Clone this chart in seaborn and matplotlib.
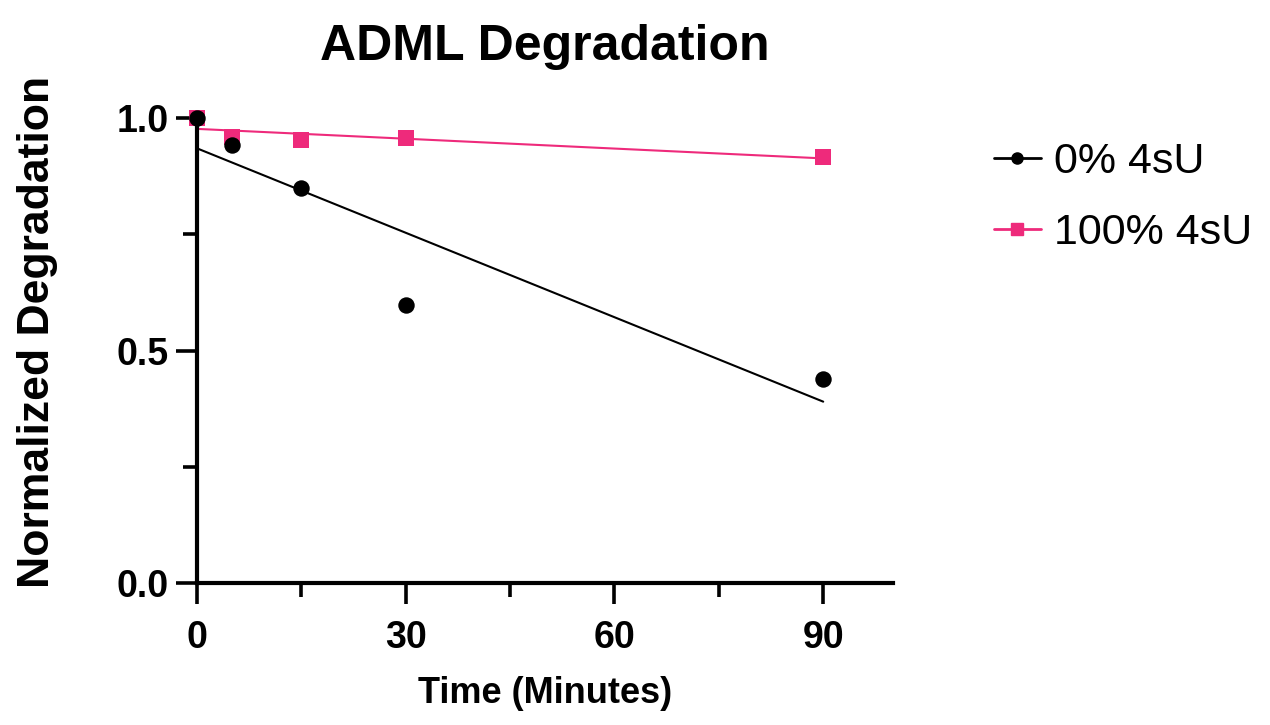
import pandas as pd
import numpy as np
import matplotlib.pyplot as plt
import seaborn as sns
from matplotlib.lines import Line2D
from matplotlib.ticker import MultipleLocator

# data
time_min = [0, 5, 15, 30, 90]
deg_0 = [1.0, 0.942, 0.849, 0.598, 0.439]
deg_100 = [1.0, 0.960, 0.953, 0.957, 0.916]
labels = ['0% 4sU', '100% 4sU']
colors = ['#000000', '#EE2A7B']
markers = ['o', 's']

sns.set_theme(style='ticks')
plt.rcParams['font.family'] = ['Liberation Sans', 'DejaVu Sans']
plt.rcParams.update({'text.color': 'black', 'axes.labelcolor': 'black',
                     'xtick.color': 'black', 'ytick.color': 'black',
                     'axes.edgecolor': 'black'})

fig = plt.figure(figsize=(12.7, 7.25), dpi=100)
ax = fig.add_axes([0.155, 0.196, 0.548, 0.641])

# draw 100% first so the black points sit on top
for vals, lab, col, mk, z in [(deg_100, labels[1], colors[1], markers[1], 2),
                              (deg_0, labels[0], colors[0], markers[0], 3)]:
    df = pd.DataFrame({'time': time_min, 'deg': vals})
    sns.regplot(x='time', y='deg', data=df, ax=ax, ci=None, color=col,
                marker=mk, scatter_kws={'s': 140, 'zorder': z + 2, 'clip_on': False,
                                        'linewidths': 0, 'alpha': 1},
                line_kws={'lw': 1.5, 'zorder': z})

ax.set_xlim(0, 100)
ax.set_ylim(0, 1.0)
ax.xaxis.set_major_locator(MultipleLocator(30))
ax.xaxis.set_minor_locator(MultipleLocator(15))
ax.yaxis.set_major_locator(MultipleLocator(0.5))
ax.yaxis.set_minor_locator(MultipleLocator(0.25))
ax.yaxis.set_major_formatter(plt.FormatStrFormatter('%.1f'))

sns.despine(ax=ax)
for s in ['left', 'bottom']:
    ax.spines[s].set_linewidth(3)
ax.tick_params(which='major', length=15, width=2.6, labelsize=27, pad=5)
ax.tick_params(axis='x', which='major', pad=12)
ax.tick_params(which='minor', length=10, width=2.6)
for t in ax.get_xticklabels() + ax.get_yticklabels():
    t.set_fontweight('bold')

ax.set_xlabel('Time (Minutes)', fontsize=26, fontweight='bold', labelpad=14)
ax.set_ylabel('Normalized Degradation', fontsize=32, fontweight='bold')
ax.yaxis.set_label_coords(-0.199, 0.54)
ax.set_title('ADML Degradation', fontsize=36, fontweight='bold', pad=42)

handles = [Line2D([0], [0], color=colors[0], marker='o', markersize=8, lw=2),
           Line2D([0], [0], color=colors[1], marker='s', markersize=9, lw=2)]
fig.legend(handles, labels, loc='upper left', bbox_to_anchor=(0.752, 0.858),
           frameon=False, fontsize=31, handlelength=1.1, labelspacing=0.72,
           handletextpad=0.3)

fig.savefig('out.png', dpi=100)
